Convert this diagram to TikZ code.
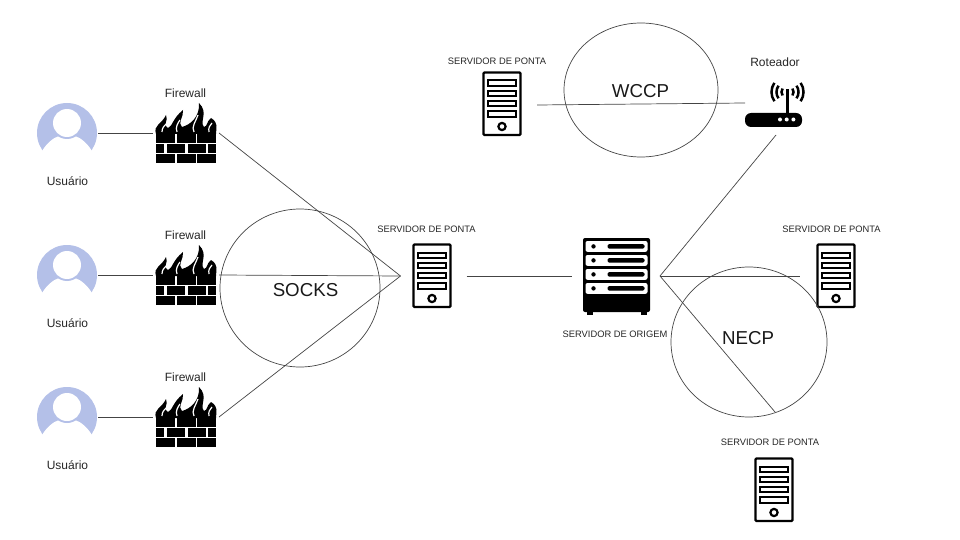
\documentclass[tikz,border=0pt]{standalone}
\usepackage{fontspec}
\usetikzlibrary{shapes.geometric}
\setmainfont{Liberation Sans}
\definecolor{userblue}{HTML}{B4C0E8}
\definecolor{ringgray}{HTML}{444444}
\tikzset{
  box/.style={inner sep=0pt, outer sep=0pt, minimum height=10pt},
  link/.style={draw=ringgray, line width=.7pt},
  ring/.style={draw=ringgray, line width=.7pt, ellipse, inner sep=0pt},
  small/.style={font=\fontsize{9.35}{11}\selectfont, text=black!85},
  label/.style={font=\fontsize{12}{14}\selectfont, text=black!85},
  proto/.style={font=\fontsize{18.7}{22}\selectfont, text=black!90},
  pics/user/.style={code={
    \fill[userblue] (0,0) circle (30pt);
    \fill[white] (-25,18) .. controls (-20,10) and (-14,5) .. (-8,3) -- (8,3) .. controls (14,5) and (20,10) .. (25,18) -- (25,32) -- (-25,32) -- cycle;
    \fill[userblue] (0,-10) circle (16pt);
    \fill[white] (0,-10) circle (14pt);
  }},
  pics/firewall/.style={code={
    \fill[black] (-30,-1) .. controls (-33,-10) and (-24,-11) .. (-20,-20) .. controls (-17,-14) and (-24,-11) .. (-18,-7)
      .. controls (-13,-9) and (-14,-16) .. (-3,-25) .. controls (-2,-18) and (-9,-12) .. (-4,-8)
      .. controls (4,-10) and (14,-18) .. (13,-32) .. controls (23,-22) and (13,-14) .. (18,-8)
      .. controls (22,-9) and (20,-13) .. (25,-17) .. controls (33,-12) and (30,-7) .. (30,-1) -- cycle;
    \draw[white, line width=1.2pt] (-24,-3) .. controls (-24,-7) and (-22,-9) .. (-20,-11);
    \draw[white, line width=1.2pt] (-9,-3) .. controls (-11,-8) and (-8,-12) .. (-6,-15);
    \draw[white, line width=1.2pt] (8,-3) .. controls (5,-8) and (10,-14) .. (12,-20);
    \draw[white, line width=1.2pt] (23,-3) .. controls (22,-7) and (24,-10) .. (26,-12);
    \foreach \row in {0,2}{
      \foreach \k in {0,1,2}{
        \fill[black] (-30+\k*20.5,-1+\row*10) rectangle +(19,9);
      }
    }
    \fill[black] (-30,9) rectangle +(8,9);
    \foreach \k in {0,1}{
      \fill[black] (-19+\k*21,9) rectangle +(18,9);
    }
    \fill[black] (22,9) rectangle +(8,9);
  }},
  pics/server/.style={code={
    \draw[black, line width=2.4pt, rounded corners=1pt] (-18.5,-31.5) rectangle (18.5,31);
    \foreach \k in {0,1,2,3}{
      \draw[black, line width=2pt] (-14,-23.5+\k*10.2) rectangle (14,-18+\k*10.2);
    }
    \draw[black, line width=2.2pt] (0,22.5) circle (3.6pt);
  }},
  pics/origin/.style={code={
    \fill[black, rounded corners=2pt] (-33.5,-38) rectangle (33.5,36);
    \fill[black] (-30,36) rectangle (-24,38.5);
    \fill[black] (24,36) rectangle (30,38.5);
    \foreach \k in {0,1,2,3}{
      \fill[white, rounded corners=2pt] (-31,-35+\k*14) rectangle (31,-24.2+\k*14);
      \fill[black] (-23,-29.6+\k*14) circle (2.2pt);
      \fill[black, rounded corners=1.5pt] (-9,-31.8+\k*14) rectangle (28,-27.4+\k*14);
    }
  }},
  pics/router/.style={code={
    \fill[black, rounded corners=6pt] (-30,8) rectangle (27,22);
    \fill[black] (11,-16) rectangle (14,8);
    \foreach \k in {0,1,2}{
      \fill[white] (5+\k*6.7,14.5) circle (2pt);
    }
    \foreach \r in {6,11,16}{
      \draw[black, line width=2.5pt] (12.5+\r*.82,-13-\r*.57) arc (35:-35:\r pt);
      \draw[black, line width=2.5pt] (12.5-\r*.82,-13-\r*.57) arc (145:215:\r pt);
    }
  }}
}
\begin{document}
\begin{tikzpicture}[x=1pt,y=-1pt]
\useasboundingbox (0,0) rectangle (960,540);
% users
\foreach \n/\y in {1/133,2/275,3/417}{
  \pic at (67,\y) {user};
  \node[box, minimum width=62pt] (user\n) at (67,\y) {};
  \node[label] (userlab\n) at (67.5,\y+48.5) {Usuário};
  \pic at (186,\y+2) {firewall};
  \node[box, minimum width=66pt] (fw\n) at (186,\y) {};
  \node[label] (fwlab\n) at (185.5,\y-39.5) {Firewall};
  \draw[link] (user\n) -- (fw\n);
}
% servers
\pic at (432,276) {server};
\node[box, minimum width=66pt] (hub) at (433.5,276) {};
\node[small] (hublab) at (426.5,229) {SERVIDOR DE PONTA};
\pic at (502,104) {server};
\node[box, minimum width=70pt] (top) at (502,105) {};
\node[small] (toplab) at (497,61) {SERVIDOR DE PONTA};
\pic at (836,276) {server};
\node[box, minimum width=72pt] (right) at (836,276) {};
\node[small] (rightlab) at (831.5,229) {SERVIDOR DE PONTA};
\pic at (774,490) {server};
\coordinate (bottom) at (775,412);
\node[small] (bottomlab) at (770,442) {SERVIDOR DE PONTA};
\pic at (616.5,276) {origin};
\node[box, minimum width=88pt] (origin) at (616,276) {};
\node[small] (originlab) at (615,334) {SERVIDOR DE ORIGEM};
\pic at (775,105) {router};
\coordinate (routerin) at (745,103);
\coordinate (routerout) at (776,135);
\node[label] (routerlab) at (775,62.5) {Roteador};
% links
\foreach \n in {1,2,3}{
  \draw[link] (fw\n.east) -- (hub.west);
}
\draw[link] (hub) -- (origin);
\draw[link] (origin.east) -- (routerout);
\draw[link] (origin.east) -- (right.west);
\draw[link] (origin.east) -- (bottom);
\draw[link] (top.east) -- (routerin);
% protocols
\node[ring, minimum width=160pt, minimum height=158pt] (socksring) at (300,288) {};
\node[ring, minimum width=154pt, minimum height=134pt] (wccpring) at (641,90) {};
\node[ring, minimum width=156pt, minimum height=150pt] (necpring) at (749,342) {};
\node[proto] (socks) at (305.5,290) {SOCKS};
\node[proto] (wccp) at (640.5,91.5) {WCCP};
\node[proto] (necp) at (748,338) {NECP};
\end{tikzpicture}
\end{document}
